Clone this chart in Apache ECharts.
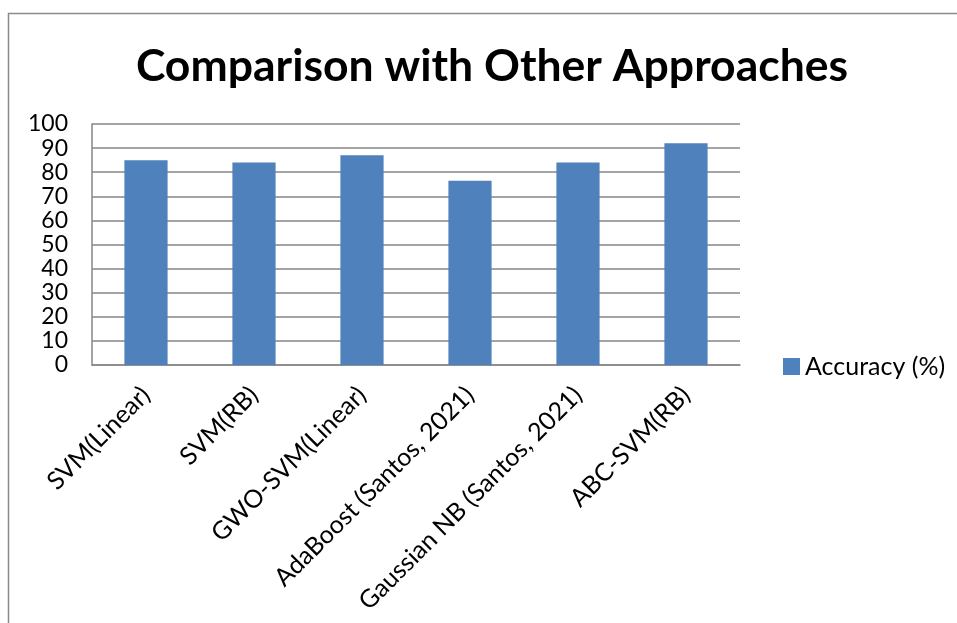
<!DOCTYPE html>
<html><head><meta charset="utf-8">
<script src="https://cdn.jsdelivr.net/npm/echarts@6/dist/echarts.min.js"></script>
<style>html,body{margin:0;padding:0;background:#fff}#c{width:957px;height:623px}</style>
</head><body><div id="c"></div>
<script>
const categories = ["SVM(Linear)", "SVM(RB)", "GWO-SVM(Linear)", "AdaBoost (Santos, 2021)", "Gaussian NB (Santos, 2021)", "ABC-SVM(RB)"];
const accuracy = [85, 84, 87, 76.5, 84, 92];
const seriesName = "Accuracy (%)";
const titleText = "Comparison with Other Approaches";
const yTicks = {min: 0, max: 100, interval: 10};
const FONT = "Lato";

const chart = echarts.init(document.getElementById('c'), null, {renderer: 'canvas'});
chart.setOption({
  animation: false,
  backgroundColor: '#fff',
  graphic: [{
    type: 'rect', left: 6, top: 11, shape: {width: 1000, height: 700},
    style: {fill: 'none', stroke: '#8a8a8a', lineWidth: 1.5}, silent: true
  }],
  title: {
    text: titleText, left: 487, top: 39, textAlign: 'center',
    textStyle: {fontFamily: FONT, fontWeight: 'bold', fontSize: 44.5, color: '#000'}
  },
  legend: {
    data: [seriesName], left: 778, top: 349, itemWidth: 17, itemHeight: 17, itemGap: 8,
    icon: 'rect',
    textStyle: {fontFamily: FONT, fontSize: 25, color: '#000'}
  },
  grid: {left: 92, top: 124, width: 648, height: 241, containLabel: false},
  xAxis: {
    type: 'category', data: categories,
    axisLine: {show: true, lineStyle: {color: '#868686', width: 1.5}},
    axisTick: {show: false},
    axisLabel: {rotate: 45, interval: 0, fontFamily: FONT, fontSize: 25, color: '#000', margin: 26}
  },
  yAxis: {
    type: 'value', min: yTicks.min, max: yTicks.max, interval: yTicks.interval,
    axisLine: {show: true, lineStyle: {color: '#868686', width: 1.5}},
    axisTick: {show: false},
    splitLine: {lineStyle: {color: '#868686', width: 1.5}},
    axisLabel: {fontFamily: FONT, fontSize: 23, color: '#000', margin: 24}
  },
  series: [{
    name: seriesName, type: 'bar', data: accuracy, barWidth: '40%',
    itemStyle: {color: '#4F81BD'}
  }]
});
</script></body></html>
